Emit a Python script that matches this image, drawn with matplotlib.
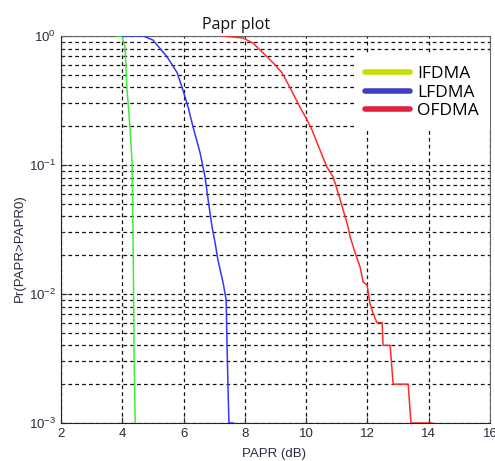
import numpy as np
import matplotlib
matplotlib.use("Agg")
import matplotlib.pyplot as plt
from matplotlib.lines import Line2D

# CCDF curves (PAPR0 in dB, Pr(PAPR > PAPR0))
ifdma_x = [3.85, 3.99, 4.09, 4.15, 4.25, 4.32, 4.35, 4.35, 4.38, 4.38, 4.42]
ifdma_y = [1.0, 1.0, 0.82, 0.40, 0.197, 0.104, 0.033, 0.028, 0.0055, 0.004, 0.001]

lfdma_x = [4.0, 4.68, 5.00, 5.46, 5.79, 5.98, 6.15, 6.31, 6.54, 6.70, 6.80, 6.93,
           7.03, 7.12, 7.29, 7.39, 7.42, 7.45, 7.48, 7.61]
lfdma_y = [1.0, 1.0, 0.93, 0.69, 0.52, 0.38, 0.28, 0.197, 0.124, 0.081, 0.054, 0.033,
           0.0249, 0.0184, 0.0122, 0.009, 0.0039, 0.0019, 0.001, 0.001]

ofdma_x = [7.25, 7.94, 8.27, 8.59, 8.92, 9.21, 9.47, 9.80, 10.03, 10.19, 10.45, 10.68,
           10.88, 11.11, 11.37, 11.43, 11.60, 11.76, 11.86, 11.99, 12.08, 12.18, 12.31,
           12.48, 12.51, 12.74, 12.84, 13.33, 13.42, 14.11]
ofdma_y = [1.0, 0.965, 0.88, 0.74, 0.62, 0.52, 0.40, 0.28, 0.224, 0.187, 0.131, 0.096,
           0.081, 0.054, 0.033, 0.028, 0.0208, 0.0162, 0.0124, 0.0117, 0.0085, 0.0071,
           0.006, 0.006, 0.004, 0.004, 0.002, 0.002, 0.001, 0.001]

labels = ["IFDMA", "LFDMA", "OFDMA"]
line_colors = ["#3cee3c", "#3535ff", "#ff2a2a"]
legend_colors = ["#c6e000", "#4040c4", "#e0203f"]

plt.rcParams["font.family"] = ["Liberation Sans", "DejaVu Sans"]
plt.rcParams["mathtext.fontset"] = "custom"
plt.rcParams["mathtext.rm"] = "Liberation Sans"
plt.rcParams["mathtext.default"] = "regular"

fig = plt.figure(figsize=(4.95, 4.61), dpi=100)
ax = fig.add_axes([61 / 495, 1 - 423 / 461, 429 / 495, 387 / 461])

for xs, ys, c in zip([ifdma_x, lfdma_x, ofdma_x], [ifdma_y, lfdma_y, ofdma_y], line_colors):
    ax.plot(xs, ys, color=c, lw=1.1, zorder=3)

ax.set_yscale("log")
ax.set_xlim(2, 16)
ax.set_ylim(1e-3, 1)
ax.set_xticks(np.arange(2, 17, 2))

ax.grid(True, which="major", axis="both", color="#111111", ls=(0, (3, 2.5)), lw=0.9)
ax.grid(True, which="minor", axis="y", color="#111111", ls=(0, (3, 2.5)), lw=0.9)
ax.tick_params(which="both", direction="in", labelsize=9.5, labelcolor="#2a2a40",
               colors="#333333")
ax.tick_params(which="major", length=4)
ax.tick_params(which="minor", length=2)
for s in ["left", "bottom"]:
    ax.spines[s].set_color("#222222")
for s in ["top", "right"]:
    ax.spines[s].set_color("#666666")

fig.text(274 / 495, 1 - 457 / 461, "PAPR (dB)", ha="center", va="baseline",
         fontsize=9.5, color="#2a2a40")
fig.text(20 / 495, 1 - 248 / 461, "Pr(PAPR>PAPR0)", ha="center", va="center",
         rotation=90, fontsize=9.5, color="#2a2a40")
fig.text(236 / 495, 1 - 29 / 461, "Papr plot", ha="center", va="baseline",
         fontsize=11.5, family="Open Sans", color="#111111")

handles = [Line2D([], [], color=c, lw=4, solid_capstyle="round") for c in legend_colors]
leg = ax.legend(handles, labels, loc="upper right", bbox_to_anchor=(1.021, 0.974),
                frameon=True, framealpha=1, edgecolor="none", fancybox=False,
                prop={"family": "Open Sans", "size": 12.5}, handlelength=2.6,
                handletextpad=0.4, labelspacing=0.14, borderpad=0.65)
leg.set_zorder(5)

fig.savefig("out.png", dpi=100)
